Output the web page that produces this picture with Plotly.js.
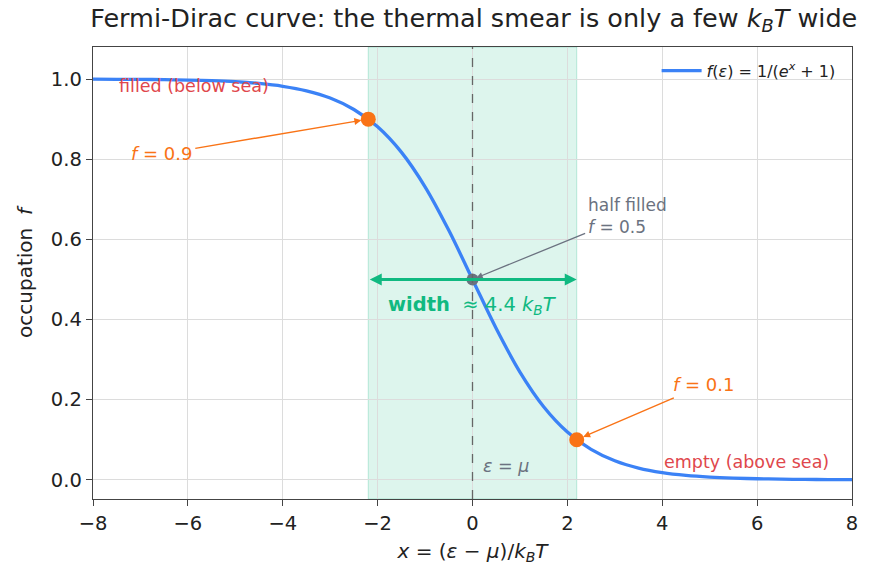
<!DOCTYPE html>
<html><head><meta charset="utf-8">
<script src="https://cdn.plot.ly/plotly-3.0.1.min.js"></script>
<style>body{margin:0;background:#fff}#c{width:874px;height:579px}</style>
</head><body><div id="c"></div>
<script>
// curve samples (x, occupation)
const curveX = [-8,-7.5,-7,-6.5,-6,-5.5,-5,-4.5,-4,-3.5,-3,-2.5,-2,-1.5,-1,-0.5,0,0.5,1,1.5,2,2.5,3,3.5,4,4.5,5,5.5,6,6.5,7,7.5,8];
const curveY = [0.9997,0.9994,0.9991,0.9985,0.9975,0.9959,0.9933,0.9890,0.9820,0.9707,0.9526,0.9241,0.8808,0.8176,0.7311,0.6225,0.5,0.3775,0.2689,0.1824,0.1192,0.0759,0.0474,0.0293,0.0180,0.0110,0.0067,0.0041,0.0025,0.0015,0.0009,0.0006,0.0003];
// highlighted points
const markX = [-2.197, 2.197];
const markY = [0.9, 0.1];
const midX = [0];
const midY = [0.5];
const xTicks = [-8,-6,-4,-2,0,2,4,6,8];
const yTicks = [0.0,0.2,0.4,0.6,0.8,1.0];

const F = 'DejaVu Sans, sans-serif';
const traces = [
  {x: curveX, y: curveY, mode: 'lines', line: {color: '#3b82f6', width: 3.3, shape: 'spline'},
   name: '<i>f</i>(<i>ε</i>) = 1/(<i>e</i><sup><i>x</i></sup> + 1)', showlegend: true},
  {x: markX, y: markY, mode: 'markers', marker: {color: '#f97316', size: 15}, showlegend: false, hoverinfo: 'skip'},
  {x: midX, y: midY, mode: 'markers', marker: {color: '#6b7280', size: 12}, showlegend: false, hoverinfo: 'skip'}
];

const layout = {
  width: 874, height: 579,
  margin: {l: 93, r: 22, t: 47, b: 80},
  paper_bgcolor: '#fff', plot_bgcolor: '#fff',
  font: {family: F, size: 19, color: '#222'},
  title: {text: 'Fermi-Dirac curve: the thermal smear is only a few <i>k</i><sub><i>B</i></sub><i>T</i> wide',
          font: {size: 25.5, color: '#222', family: F}, x: 0.542, xanchor: 'center', y: 0.985, yanchor: 'top'},
  xaxis: {range: [-8, 8], tickvals: xTicks, ticktext: xTicks.map(v => v < 0 ? '−' + Math.abs(v) : String(v)),
          showgrid: true, gridcolor: '#dcdcdc', gridwidth: 1, zeroline: false,
          showline: true, linecolor: '#444', linewidth: 1.3, mirror: true,
          ticks: 'outside', ticklen: 6, tickcolor: '#444', tickfont: {size: 19.5},
          title: {text: '<i>x</i> = (<i>ε</i> − <i>μ</i>)/<i>k</i><sub><i>B</i></sub><i>T</i>', font: {size: 20}, standoff: 10}},
  yaxis: {range: [-0.048, 1.08], tickvals: yTicks, ticktext: yTicks.map(v => v.toFixed(1)),
          showgrid: true, gridcolor: '#dcdcdc', gridwidth: 1, zeroline: false,
          showline: true, linecolor: '#444', linewidth: 1.3, mirror: true,
          ticks: 'outside', ticklen: 6, tickcolor: '#444', tickfont: {size: 19.5},
          title: {text: 'occupation  <i>f</i>', font: {size: 20}, standoff: 12}},
  legend: {x: 0.985, y: 0.985, xanchor: 'right', yanchor: 'top', bgcolor: 'rgba(255,255,255,0)',
           font: {size: 16}, itemwidth: 40},
  shapes: [
    {type: 'rect', xref: 'x', yref: 'paper', x0: markX[0], x1: markX[1], y0: 0, y1: 1,
     fillcolor: 'rgba(16,185,129,0.14)', line: {color: 'rgba(16,185,129,0.25)', width: 1}, layer: 'below'},
    {type: 'line', xref: 'x', yref: 'paper', x0: midX[0], x1: midX[0], y0: 0, y1: 1,
     line: {color: '#666', width: 1.3, dash: 'dash'}}
  ],
  annotations: [
    {x: -7.5, y: 0.983, xref: 'x', yref: 'y', text: 'filled (below sea)', showarrow: false,
     xanchor: 'left', font: {size: 17.5, color: '#e0474c'}},
    {x: 4.0, y: 0.045, xref: 'x', yref: 'y', text: 'empty (above sea)', showarrow: false,
     xanchor: 'left', font: {size: 17.5, color: '#e0474c'}},
    {x: markX[0], y: markY[0], ax: -6.55, ay: 0.813, xref: 'x', yref: 'y', axref: 'x', ayref: 'y',
     text: '<i>f</i> = 0.9', font: {size: 18, color: '#f97316'}, borderpad: 2,
     showarrow: true, arrowhead: 2, arrowsize: 1, arrowwidth: 1.4, arrowcolor: '#f97316', standoff: 7},
    {x: markX[1], y: markY[1], ax: 4.88, ay: 0.237, xref: 'x', yref: 'y', axref: 'x', ayref: 'y',
     text: '<i>f</i> = 0.1', font: {size: 18, color: '#f97316'}, borderpad: 2,
     showarrow: true, arrowhead: 2, arrowsize: 1, arrowwidth: 1.4, arrowcolor: '#f97316', standoff: 7},
    {x: midX[0], y: midY[0], ax: 3.26, ay: 0.658, xref: 'x', yref: 'y', axref: 'x', ayref: 'y',
     text: 'half filled<br><i>f</i> = 0.5', align: 'left', font: {size: 17, color: '#6b7280'}, borderpad: 2,
     showarrow: true, arrowhead: 2, arrowsize: 1, arrowwidth: 1.3, arrowcolor: '#6b7280', standoff: 4},
    {x: markX[1], y: 0.5, ax: markX[0], ay: 0.5, xref: 'x', yref: 'y', axref: 'x', ayref: 'y',
     text: '', showarrow: true, arrowhead: 2, startarrowhead: 2, arrowside: 'end+start',
     arrowsize: 0.8, startarrowsize: 0.8, arrowwidth: 3, arrowcolor: '#10b981', standoff: 0, startstandoff: 0},
    {x: 0, y: 0.436, xref: 'x', yref: 'y', text: '<b>width</b>  ≈ 4.4 <i>k</i><sub><i>B</i></sub><i>T</i>', showarrow: false,
     xanchor: 'center', font: {size: 19.5, color: '#10b981'}},
    {x: 0.18, y: 0.035, xref: 'x', yref: 'y', text: '<i>ε</i> = <i>μ</i>', showarrow: false,
     xanchor: 'left', font: {size: 17.5, color: '#6b7280'}}
  ]
};
Plotly.newPlot('c', traces, layout, {displayModeBar: false, staticPlot: true});
</script></body></html>
